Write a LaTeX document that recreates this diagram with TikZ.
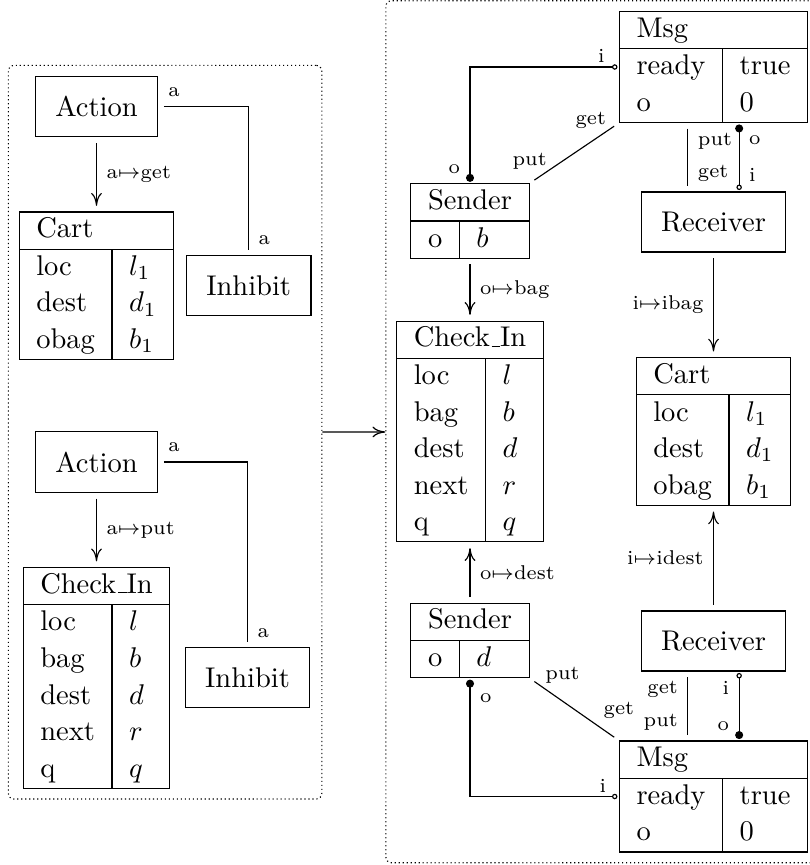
\documentclass[tikz,border=0pt]{standalone}
\usetikzlibrary{arrows.meta,positioning,fit}
\renewcommand{\arraystretch}{1.07}
\newcommand{\uscore}{\kern.06em\rule{.3em}{0.4pt}}
\tikzset{
    box/.style   = {draw, inner sep=7pt},
    tbl/.style   = {draw, inner sep=0pt},
    frame/.style = {draw, densely dotted, rounded corners=2pt, inner sep=3.6pt},
    map/.style   = {-{Computer Modern Rightarrow[length=4.5pt,width=3.8pt]},
            shorten <=2pt, shorten >=2pt},
    wire/.style  = {shorten <=2pt, shorten >=2pt},
    port/.style  = {shorten <=0.5pt, shorten >=0.5pt},
    lbl/.style   = {font=\scriptsize},
}

\begin{document}
\begin{tikzpicture}[x=0.3509pt, y=-0.3509pt, node distance=26pt and 4pt]
    \useasboundingbox (0,0) rectangle (810,865);
    % left part
    \node[box] (Action1) at (96.5,106.5) {Action};
    \node[tbl, below=of Action1] (Cart1) {\begin{tabular}{l|l}
        \multicolumn{2}{l}{Cart}\\ \hline
        loc & $l_1$\\ dest & $d_1$\\ obag & $b_1$
    \end{tabular}};
    \node[box, right=of Cart1] (Inhibit1) {Inhibit};
    \node[box] (Action2) at (96.5,462) {Action};
    \node[tbl, below=of Action2] (CheckIn1) {\begin{tabular}{l|l}
        \multicolumn{2}{l}{Check\uscore In}\\ \hline
        loc & $l$\\ bag & $b$\\ dest & $d$\\ next & $r$\\ q & $q$
    \end{tabular}};
    \node[box, right=5pt of CheckIn1] (Inhibit2) {Inhibit};
    % right part
    \node[tbl] (Msg1) at (713.5,67) {\begin{tabular}{l|l}
        \multicolumn{2}{l}{Msg}\\ \hline
        ready & true\\ o & 0
    \end{tabular}};
    \node[tbl] (Sender1) at (470,221) {\begin{tabular}{l|l}
        \multicolumn{2}{l}{Sender}\\ \hline
        o & $b$
    \end{tabular}};
    \node[box] (Receiver1) at (713.5,222) {Receiver};
    \node[tbl] (CheckIn2) at (470,431.5) {\begin{tabular}{l|l}
        \multicolumn{2}{l}{Check\uscore In}\\ \hline
        loc & $l$\\ bag & $b$\\ dest & $d$\\ next & $r$\\ q & $q$
    \end{tabular}};
    \node[tbl] (Cart2) at (713.5,431.5) {\begin{tabular}{l|l}
        \multicolumn{2}{l}{Cart}\\ \hline
        loc & $l_1$\\ dest & $d_1$\\ obag & $b_1$
    \end{tabular}};
    \node[tbl] (Sender2) at (470,640.5) {\begin{tabular}{l|l}
        \multicolumn{2}{l}{Sender}\\ \hline
        o & $d$
    \end{tabular}};
    \node[box] (Receiver2) at (713.5,641) {Receiver};
    \node[tbl] (Msg2) at (713.5,796.5) {\begin{tabular}{l|l}
        \multicolumn{2}{l}{Msg}\\ \hline
        ready & true\\ o & 0
    \end{tabular}};
    % frames
    \node[frame, fit=(Action1)(Cart1)(Inhibit1)(CheckIn1)] (leftpart) {};
    \node[frame, fit=(Msg1)(Sender1)(CheckIn2)(Msg2)] (rightpart) {};
    % left arrows
    \draw[map] (Action1) -- node[lbl, right] {a$\mapsto$get} (Cart1);
    \draw[wire] (Action1.east) -| node[lbl, pos=0, above right] {a}
        node[lbl, pos=1, above right] {a} (Inhibit1.north);
    \draw[map] (Action2) -- node[lbl, right] {a$\mapsto$put} (CheckIn1);
    \draw[wire] (Action2.east) -| node[lbl, pos=0, above right] {a}
        node[lbl, pos=1, above right] {a} (Inhibit2.north);
    \draw[map, shorten <=0pt, shorten >=0pt] (leftpart) -- (rightpart);
    % right arrows, top half
    \draw[port, {Circle[open,length=1.9pt]}-{Circle[length=2.8pt]}] (Msg1.west)
        -| node[lbl, pos=0, above left=-2pt and 1.5pt] {i}
        node[lbl, pos=1, above left] {o} (Sender1.north);
    \draw[wire] (Sender1.north east) -- node[lbl, pos=0, above=1.5pt] {put}
        node[lbl, pos=1, left=1pt, yshift=1pt] {get} (Msg1.south west);
    \draw[wire] ([xshift=-9pt]Msg1.south) -- node[lbl, pos=0, below right] {put}
        node[lbl, pos=1, above right] {get} ([xshift=-9pt]Receiver1.north);
    \draw[port, {Circle[length=2.8pt]}-{Circle[open,length=1.9pt]}] ([xshift=9pt]Msg1.south)
        -- node[lbl, pos=0, below right=1pt and 0pt] {o}
        node[lbl, pos=1, above right] {i} ([xshift=9pt]Receiver1.north);
    \draw[map] (Sender1) -- node[lbl, right] {o$\mapsto$bag} (CheckIn2);
    \draw[map] (Receiver1) -- node[lbl, left] {i$\mapsto$ibag} (Cart2);
    % right arrows, bottom half
    \draw[map] (Sender2) -- node[lbl, right] {o$\mapsto$dest} (CheckIn2);
    \draw[map] (Receiver2) -- node[lbl, left] {i$\mapsto$idest} (Cart2);
    \draw[port, {Circle[length=2.8pt]}-{Circle[open,length=1.9pt]}] (Sender2.south)
        |- node[lbl, pos=0, below right=2pt and 0pt] {o}
        node[lbl, pos=1, above left=-2pt and 1pt] {i} (Msg2.west);
    \draw[wire] (Sender2.south east) -- node[lbl, pos=0, right=2pt, yshift=1pt] {put}
        node[lbl, pos=1, above=4pt] {get} (Msg2.north west);
    \draw[wire] ([xshift=-9pt]Receiver2.south) -- node[lbl, pos=0, below left] {get}
        node[lbl, pos=1, above left] {put} ([xshift=-9pt]Msg2.north);
    \draw[port, {Circle[open,length=1.9pt]}-{Circle[length=2.8pt]}] ([xshift=9pt]Receiver2.south)
        -- node[lbl, pos=0, below left] {i}
        node[lbl, pos=1, above left] {o} ([xshift=9pt]Msg2.north);
\end{tikzpicture}
\end{document}
